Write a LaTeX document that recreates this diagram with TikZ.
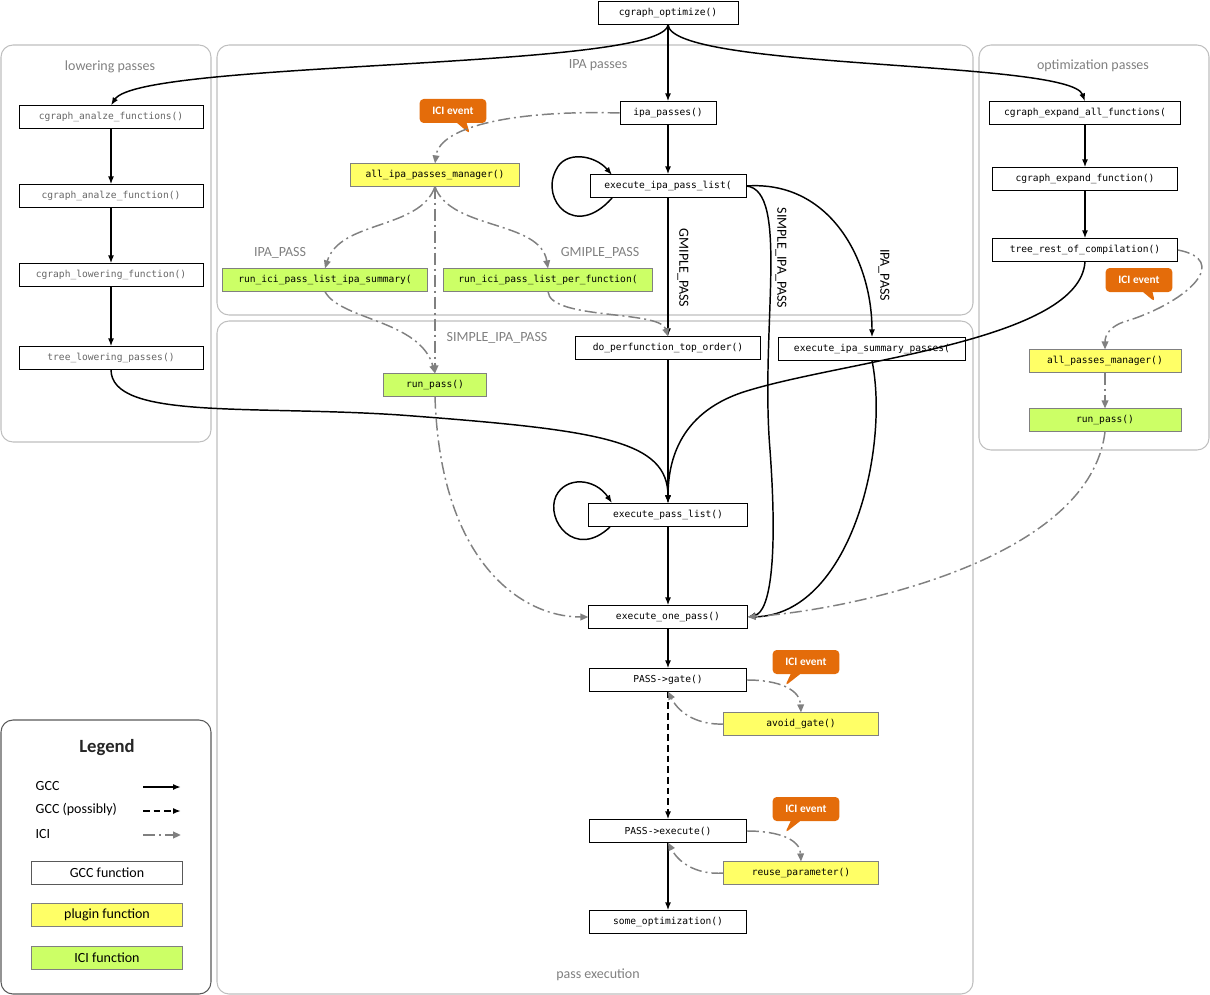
\documentclass[tikz,border=0pt]{standalone}
\usepackage{fontspec}
\setmainfont{Carlito}
\newfontfamily\monof{DejaVu Sans Mono}
\usetikzlibrary{arrows.meta,shapes.callouts}
\definecolor{yel}{HTML}{FFFF66}
\definecolor{grn}{HTML}{CCFF66}
\definecolor{ora}{HTML}{E46C0A}
\tikzset{
 fn/.style={draw=black,fill=white,minimum height=17pt,font=\monof\fontsize{7.2}{8}\selectfont,inner sep=1pt},
 yfn/.style={fn,draw=gray,fill=yel},
 gfn/.style={fn,draw=gray,fill=grn},
 grp/.style={draw=gray!50,rounded corners=9pt,line width=0.8pt},
 gtitle/.style={text=gray,font=\fontsize{10.5}{12}\selectfont},
 gcc/.style={line width=1.1pt,-{Latex[length=6pt]}},
 gccd/.style={gcc,dash pattern=on 5pt off 3pt},
 ici/.style={gray,line width=1.1pt,dash pattern=on 9pt off 3pt on 1.5pt off 3pt,-{Triangle[length=6pt,width=5pt]}},
 lab/.style={font=\fontsize{10.5}{12}\selectfont},
 ev/.style={rectangle callout,fill=ora,text=white,rounded corners=3pt,font=\bfseries\fontsize{8.5}{10}\selectfont,minimum width=50pt,minimum height=18pt},
}
\begin{document}
\begin{tikzpicture}[x=0.75pt,y=-0.75pt]
\useasboundingbox (0,0) rectangle (1210,995);
% groups
\draw[grp] (1,45) rectangle (211,442);
\node[gtitle] (tl) at (110,67) {lowering passes};
\draw[grp] (217,45) rectangle (973,315);
\node[gtitle] (ti) at (598,65) {IPA passes};
\draw[grp] (979,45) rectangle (1209,450);
\node[gtitle] (to) at (1093,66) {optimization passes};
\draw[grp] (217,321) rectangle (973,994);
\node[gtitle] (tp) at (598,975) {pass execution};
\draw[draw=gray!70!black,rounded corners=9pt,line width=0.8pt] (1,720) rectangle (211,994);
% nodes
\node[fn,minimum width=105pt] (opt) at (668,13) {cgraph\_optimize()};
\node[fn,minimum width=138pt,text=gray!80!black] (l1) at (111,117) {cgraph\_analze\_functions()};
\node[fn,minimum width=138pt,text=gray!80!black] (l2) at (111,196) {cgraph\_analze\_function()};
\node[fn,minimum width=138pt,text=gray!80!black] (l3) at (111,275) {cgraph\_lowering\_function()};
\node[fn,minimum width=138pt,text=gray!80!black] (l4) at (111,358) {tree\_lowering\_passes()};
\node[fn,minimum width=72pt] (ipa) at (668,113) {ipa\_passes()};
\node[fn,minimum width=117pt] (eipl) at (668,186) {execute\_ipa\_pass\_list(};
\node[yfn,minimum width=127pt] (aipm) at (435,175) {all\_ipa\_passes\_manager()};
\node[gfn,minimum width=154pt] (rs) at (325,280) {run\_ici\_pass\_list\_ipa\_summary(};
\node[gfn,minimum width=157pt] (rpf) at (548,280) {run\_ici\_pass\_list\_per\_function(};
\node[fn,minimum width=139pt] (dpt) at (668,348) {do\_perfunction\_top\_order()};
\node[fn,minimum width=140pt] (eisp) at (872,349) {execute\_ipa\_summary\_passes(};
\node[gfn,minimum width=77pt] (rp1) at (435,385) {run\_pass()};
\node[fn,minimum width=119pt] (epl) at (668,515) {execute\_pass\_list()};
\node[fn,minimum width=119pt] (eop) at (668,617) {execute\_one\_pass()};
\node[fn,minimum width=118pt] (gate) at (668,680) {PASS->gate()};
\node[yfn,minimum width=116pt] (avg) at (801,724) {avoid\_gate()};
\node[fn,minimum width=118pt] (exe) at (668,831) {PASS->execute()};
\node[yfn,minimum width=116pt] (rup) at (801,873) {reuse\_parameter()};
\node[fn,minimum width=118pt] (some) at (668,922) {some\_optimization()};
\node[fn,minimum width=143pt] (r1) at (1085,113) {cgraph\_expand\_all\_functions(};
\node[fn,minimum width=139pt] (r2) at (1085,179) {cgraph\_expand\_function()};
\node[fn,minimum width=139pt] (r3) at (1085,250) {tree\_rest\_of\_compilation()};
\node[yfn,minimum width=114pt] (apm) at (1105,361) {all\_passes\_manager()};
\node[gfn,minimum width=114pt] (rp2) at (1105,420) {run\_pass()};
% events
\node[ev,callout absolute pointer={(470,134)}] (e1) at (453,111) {ICI event};
\node[ev,callout absolute pointer={(1155,302)}] (e2) at (1139,280) {ICI event};
\node[ev,callout absolute pointer={(785,686)}] (e3) at (806,662) {ICI event};
\node[ev,callout absolute pointer={(785,833)}] (e4) at (806,809) {ICI event};
% GCC edges
\draw[gcc] (opt.south) .. controls (665,70) and (140,60) .. (l1.north);
\draw[gcc] (opt.south) -- (ipa.north);
\draw[gcc] (opt.south) .. controls (671,70) and (1070,60) .. (r1.north);
\draw[gcc] (l1) -- (l2);
\draw[gcc] (l2) -- (l3);
\draw[gcc] (l3) -- (l4);
\draw[gcc] (l4.south) .. controls (111,420) and (250,405) .. (400,415) .. controls (600,430) and (668,440) .. (epl.north);
\draw[gcc] (ipa) -- (eipl);
\draw[gcc] (612,198) .. controls (575,240) and (540,200) .. (556,170) .. controls (565,150) and (595,155) .. (612,175);
\draw[gcc] (eipl) -- (dpt);
\node[lab,rotate=-90] (lg) at (683,268) {GMIPLE\_PASS};
\draw[gcc] (eipl.east) .. controls (790,190) and (760,330) .. (770,450) .. controls (778,560) and (770,612) .. (eop.east);
\node[lab,rotate=-90] (ls) at (781,258) {SIMPLE\_IPA\_PASS};
\draw[gcc] (eipl.east) .. controls (830,180) and (872,260) .. (eisp.north);
\node[lab,rotate=-90] (li) at (884,275) {IPA\_PASS};
\draw[gcc] (eisp.south) .. controls (890,450) and (850,615) .. (eop.east);
\draw[gcc] (dpt) -- (epl);
\draw[gcc] (r3.south) .. controls (1080,340) and (850,360) .. (750,390) .. controls (680,410) and (668,460) .. (epl.north);
\draw[gcc] (610,527) .. controls (575,560) and (545,520) .. (556,496) .. controls (566,476) and (595,478) .. (612,503);
\draw[gcc] (epl) -- (eop);
\draw[gcc] (eop) -- (gate);
\draw[gccd] (gate) -- (exe);
\draw[gcc] (exe) -- (some);
\draw[gcc] (r1) -- (r2);
\draw[gcc] (r2) -- (r3);
% ICI edges
\draw[ici] (ipa.west) .. controls (520,110) and (440,125) .. (aipm.north);
\draw[ici] (aipm.south) .. controls (420,230) and (340,220) .. (rs.north);
\node[lab,text=gray] (lip) at (280,253) {IPA\_PASS};
\draw[ici] (aipm.south) .. controls (450,230) and (540,220) .. (rpf.north);
\node[lab,text=gray] (lgm) at (600,253) {GMIPLE\_PASS};
\draw[ici] (aipm.south) -- (rp1.north);
\node[lab,text=gray] (lsi) at (497,338) {SIMPLE\_IPA\_PASS};
\draw[ici] (rs.south) .. controls (340,320) and (420,320) .. (rp1.north);
\draw[ici] (rpf.south) .. controls (550,320) and (660,310) .. (dpt.north);
\draw[ici] (rp1.south) .. controls (440,560) and (520,617) .. (eop.west);
\draw[ici] (rp2.south) .. controls (1090,560) and (850,610) .. (eop.east);
\draw[ici] (r3.east) .. controls (1230,260) and (1190,300) .. (1130,320) .. controls (1110,325) and (1105,335) .. (apm.north);
\draw[ici] (apm) -- (rp2);
\draw[ici] (gate.east) .. controls (780,680) and (800,690) .. (avg.north);
\draw[ici] (avg.west) .. controls (700,725) and (680,715) .. (gate.south);
\draw[ici] (exe.east) .. controls (780,831) and (800,840) .. (rup.north);
\draw[ici] (rup.west) .. controls (700,875) and (680,865) .. (exe.south);
% legend
\node[font=\bfseries\fontsize{14}{16}\selectfont,text=gray!30!black] (lt) at (107,748) {Legend};
\node[lab,anchor=west] (g1) at (31,786) {GCC};
\node[lab,anchor=west] (g2) at (31,810) {GCC (possibly)};
\node[lab,anchor=west] (g3) at (31,834) {ICI};
\coordinate (a1) at (143,787); \coordinate (b1) at (181,787);
\coordinate (a2) at (143,811); \coordinate (b2) at (181,811);
\coordinate (a3) at (143,835); \coordinate (b3) at (181,835);
\draw[gcc,line width=1.5pt] (a1) -- (b1);
\draw[gccd,line width=1.5pt] (a2) -- (b2);
\draw[ici,line width=1.5pt] (a3) -- (b3);
\node[draw=gray!70!black,fill=white,minimum width=113pt,minimum height=17pt,lab] (k1) at (107,873) {GCC function};
\node[draw=gray,fill=yel,minimum width=113pt,minimum height=17pt,lab] (k2) at (107,915) {plugin function};
\node[draw=gray,fill=grn,minimum width=113pt,minimum height=17pt,lab] (k3) at (107,958) {ICI function};
\end{tikzpicture}
\end{document}
